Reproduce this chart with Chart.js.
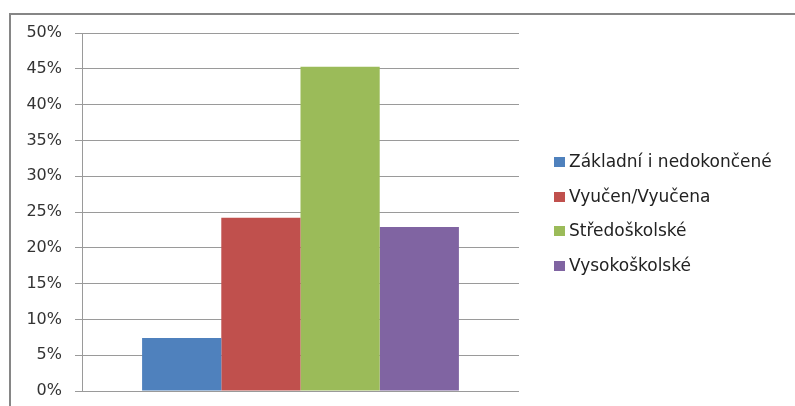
<!DOCTYPE html>
<html>
<head>
<meta charset="utf-8">
<script src="https://cdn.jsdelivr.net/npm/chart.js@4"></script>
<style>
  html, body { margin: 0; padding: 0; background: #fff; }
  #wrap { position: relative; width: 795px; height: 406px; overflow: hidden; }
  #frame { position: absolute; left: 9px; top: 13px; width: 900px; height: 500px;
           border-left: 2px solid #868686; border-top: 2px solid #868686; }
  #chart { position: absolute; left: 0; top: 0; }
  #legend { position: absolute; left: 554px; top: 149px; font-family: "DejaVu Sans", sans-serif;
            font-size: 17px; color: #222; }
  .item { height: 34.5px; line-height: 24px; white-space: nowrap; }
  .box { display: inline-block; width: 11px; height: 10px; margin-right: 4px; vertical-align: 0px; }
</style>
</head>
<body>
<div id="wrap">
  <div id="frame"></div>
  <canvas id="chart" width="795" height="406"></canvas>
  <div id="legend"></div>
</div>
<script>
const categories = [""];
const seriesNames = ["Základní i nedokončené", "Vyučen/Vyučena", "Středoškolské", "Vysokoškolské"];
const seriesValues = [7.4, 24.2, 45.3, 22.9];
const seriesColors = ["#4F81BD", "#C0504D", "#9BBB59", "#8064A2"];
const yTicks = [0, 5, 10, 15, 20, 25, 30, 35, 40, 45, 50];

function buildChart() {
  const ctx = document.getElementById("chart").getContext("2d");
  const datasets = seriesNames.map((name, i) => ({
    label: name,
    data: [seriesValues[i]],
    backgroundColor: seriesColors[i],
    borderWidth: 0,
    categoryPercentage: 0.725,
    barPercentage: 1
  }));

  const chart = new Chart(ctx, {
    type: "bar",
    data: { labels: categories, datasets: datasets },
    options: {
      responsive: false,
      animation: false,
      layout: { padding: { left: 0, right: 276, top: 33, bottom: 15 } },
      plugins: {
        legend: { display: false },
        tooltip: { enabled: false }
      },
      scales: {
        x: { display: false },
        y: {
          min: 0,
          max: 50,
          afterFit: scale => {
            scale.width = 82;
            scale.paddingTop = 0;
            scale.paddingBottom = 0;
          },
          afterBuildTicks: scale => { scale.ticks = yTicks.map(v => ({ value: v })); },
          border: { display: true, color: "#9a9a9a", width: 1 },
          grid: { color: "#9a9a9a", lineWidth: 1, tickLength: 7, drawTicks: true },
          ticks: {
            padding: 13,
            color: "#333",
            font: { family: "DejaVu Sans", size: 16 },
            callback: v => v + "%"
          }
        }
      }
    }
  });

  const legend = document.getElementById("legend");
  legend.innerHTML = seriesNames.map((name, i) =>
    `<div class="item"><span class="box" style="background:${seriesColors[i]}"></span>${name}</div>`
  ).join("");
  return chart;
}

window.addEventListener("DOMContentLoaded", buildChart);
</script>
</body>
</html>
